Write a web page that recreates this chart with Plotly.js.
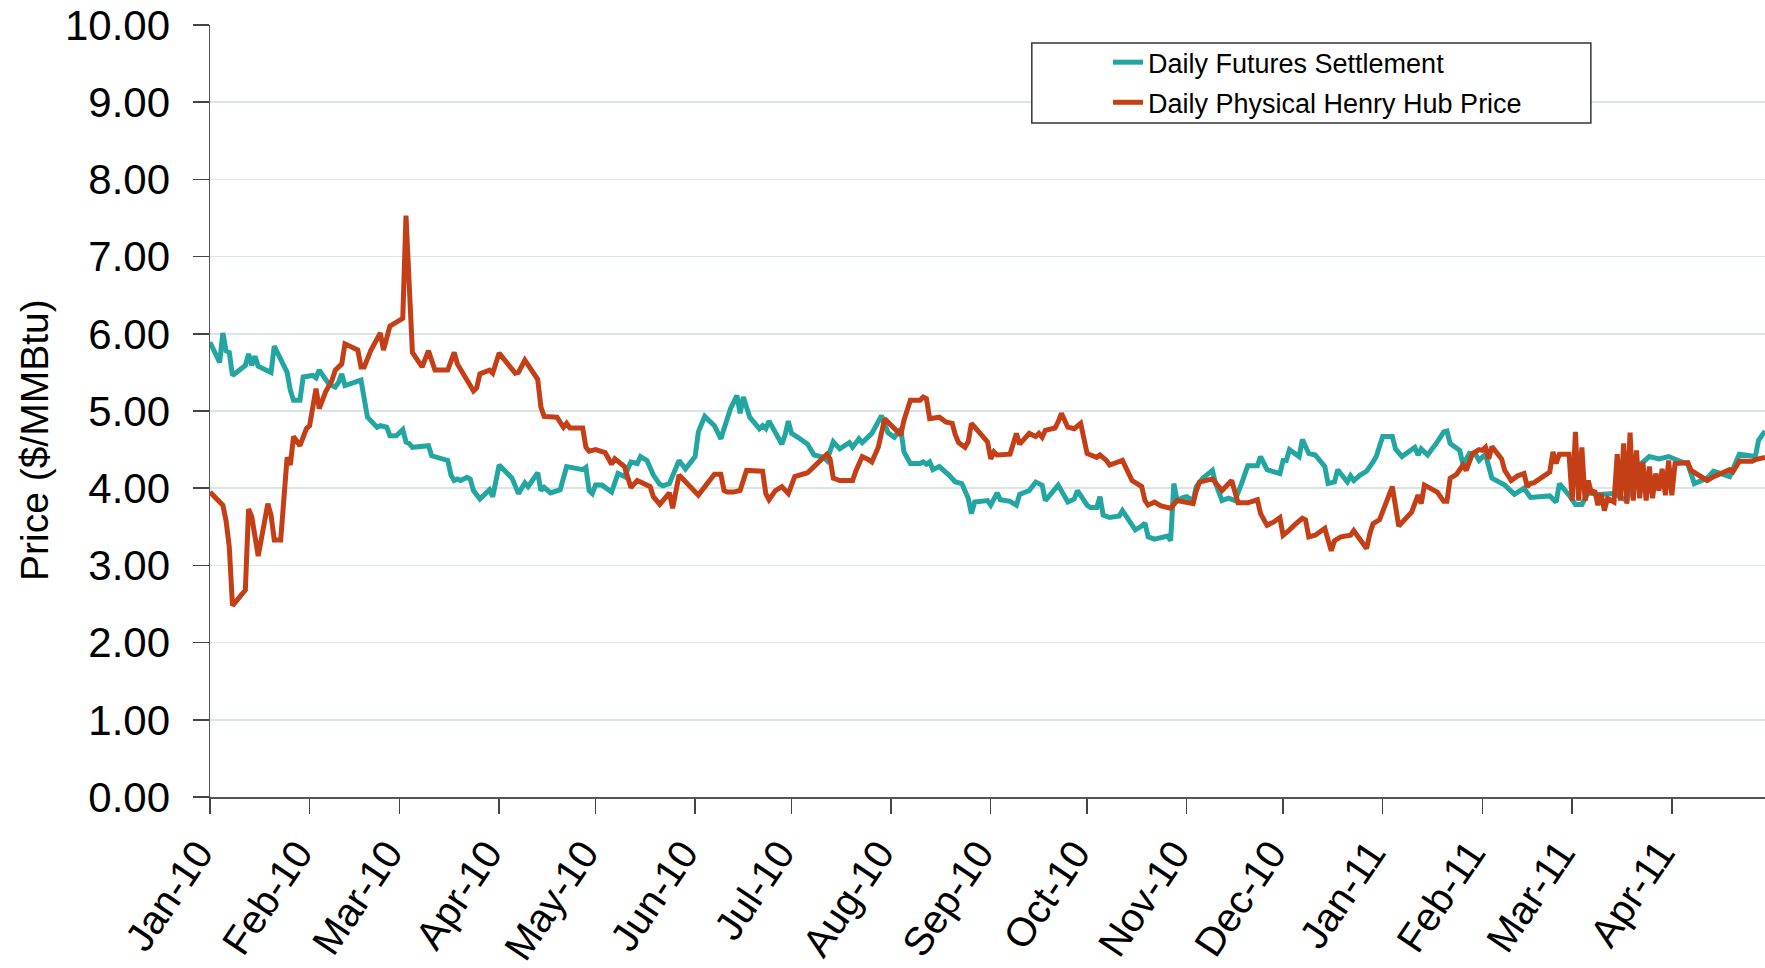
<!DOCTYPE html>
<html>
<head>
<meta charset="utf-8">
<script src="https://cdn.plot.ly/plotly-3.0.1.min.js"></script>
<style>
  html, body { margin: 0; padding: 0; background: #ffffff; }
  #chart { width: 1765px; height: 968px; }
</style>
</head>
<body>
<div id="chart"></div>
<script>
// ---- Data: Daily Futures Settlement ($/MMBtu) ----
const futuresDates = [
  '2010-01-01','2010-01-04','2010-01-05','2010-01-06','2010-01-07','2010-01-08','2010-01-12','2010-01-13','2010-01-14','2010-01-15',
  '2010-01-16','2010-01-20','2010-01-21','2010-01-25','2010-01-26','2010-01-27','2010-01-29','2010-01-30','2010-02-02','2010-02-03',
  '2010-02-04','2010-02-06','2010-02-07','2010-02-09','2010-02-10','2010-02-11','2010-02-12','2010-02-17','2010-02-18','2010-02-19',
  '2010-02-22','2010-02-23','2010-02-25','2010-02-26','2010-02-28','2010-03-02','2010-03-03','2010-03-04','2010-03-05','2010-03-09',
  '2010-03-10','2010-03-11','2010-03-13','2010-03-16','2010-03-17','2010-03-18','2010-03-19','2010-03-20','2010-03-22','2010-03-23',
  '2010-03-24','2010-03-26','2010-03-29','2010-03-30','2010-04-01','2010-04-05','2010-04-07','2010-04-09','2010-04-10','2010-04-13',
  '2010-04-14','2010-04-15','2010-04-17','2010-04-20','2010-04-22','2010-04-27','2010-04-28','2010-04-29','2010-04-30','2010-05-01',
  '2010-05-03','2010-05-06','2010-05-08','2010-05-10','2010-05-12','2010-05-14','2010-05-15','2010-05-17','2010-05-19','2010-05-21',
  '2010-05-22','2010-05-24','2010-05-27','2010-05-29','2010-06-01','2010-06-02','2010-06-04','2010-06-07','2010-06-09','2010-06-12',
  '2010-06-14','2010-06-15','2010-06-16','2010-06-18','2010-06-21','2010-06-22','2010-06-23','2010-06-24','2010-06-28','2010-06-29',
  '2010-06-30','2010-07-01','2010-07-03','2010-07-06','2010-07-08','2010-07-11','2010-07-12','2010-07-14','2010-07-16','2010-07-19',
  '2010-07-20','2010-07-22','2010-07-23','2010-07-26','2010-07-29','2010-07-31','2010-08-02','2010-08-04','2010-08-05','2010-08-07',
  '2010-08-10','2010-08-11','2010-08-12','2010-08-13','2010-08-14','2010-08-16','2010-08-19','2010-08-21','2010-08-23','2010-08-25',
  '2010-08-26','2010-08-27','2010-08-31','2010-09-01','2010-09-03','2010-09-04','2010-09-07','2010-09-09','2010-09-10','2010-09-12',
  '2010-09-13','2010-09-15','2010-09-17','2010-09-18','2010-09-22','2010-09-25','2010-09-27','2010-09-28','2010-10-01','2010-10-02',
  '2010-10-04','2010-10-05','2010-10-06','2010-10-08','2010-10-11','2010-10-12','2010-10-16','2010-10-18','2010-10-19','2010-10-20',
  '2010-10-22','2010-10-26','2010-10-27','2010-10-28','2010-10-29','2010-10-31','2010-11-01','2010-11-03','2010-11-04','2010-11-06',
  '2010-11-09','2010-11-10','2010-11-12','2010-11-14','2010-11-16','2010-11-18','2010-11-20','2010-11-23','2010-11-24','2010-11-26',
  '2010-11-30','2010-12-01','2010-12-02','2010-12-03','2010-12-06','2010-12-07','2010-12-09','2010-12-11','2010-12-14','2010-12-15',
  '2010-12-17','2010-12-18','2010-12-21','2010-12-22','2010-12-23','2010-12-25','2010-12-27','2010-12-29','2010-12-30','2011-01-01',
  '2011-01-04','2011-01-05','2011-01-07','2011-01-11','2011-01-12','2011-01-13','2011-01-15','2011-01-18','2011-01-20','2011-01-21',
  '2011-01-22','2011-01-25','2011-01-26','2011-01-28','2011-01-30','2011-01-31','2011-02-02','2011-02-04','2011-02-08','2011-02-11',
  '2011-02-14','2011-02-16','2011-02-22','2011-02-24','2011-02-25','2011-02-28','2011-03-02','2011-03-04','2011-03-06','2011-03-09',
  '2011-03-12','2011-03-14','2011-03-18','2011-03-20','2011-03-22','2011-03-25','2011-03-28','2011-03-31','2011-04-06','2011-04-08',
  '2011-04-12','2011-04-14','2011-04-19','2011-04-22','2011-04-27','2011-04-28','2011-04-30'
];
const futuresPrices = [
  5.89,5.63,6.01,5.78,5.76,5.46,5.59,5.74,5.59,5.71,
  5.58,5.50,5.84,5.50,5.27,5.14,5.14,5.44,5.46,5.43,
  5.53,5.41,5.35,5.31,5.37,5.48,5.33,5.40,5.16,4.92,
  4.79,4.81,4.79,4.68,4.68,4.76,4.60,4.58,4.53,4.54,
  4.55,4.42,4.40,4.36,4.17,4.10,4.12,4.10,4.14,4.12,
  3.97,3.86,3.98,3.89,4.30,4.13,3.93,4.07,4.02,4.20,
  3.97,4.01,3.94,3.98,4.28,4.24,4.27,3.97,3.93,4.04,
  4.04,3.95,4.19,4.15,4.34,4.32,4.41,4.36,4.17,4.05,
  4.03,4.06,4.36,4.25,4.41,4.73,4.93,4.81,4.64,5.03,
  5.20,4.97,5.18,4.92,4.77,4.81,4.77,4.87,4.57,4.69,
  4.87,4.71,4.66,4.57,4.43,4.40,4.36,4.60,4.51,4.59,
  4.53,4.64,4.59,4.71,4.94,4.72,4.66,4.77,4.47,4.32,
  4.32,4.34,4.31,4.34,4.24,4.28,4.17,4.08,4.06,3.87,
  3.67,3.82,3.84,3.78,3.94,3.85,3.83,3.78,3.92,3.95,
  3.97,4.08,4.04,3.84,4.04,3.82,3.86,3.97,3.78,3.75,
  3.75,3.89,3.65,3.62,3.64,3.71,3.46,3.51,3.55,3.37,
  3.34,3.38,3.32,4.06,3.84,3.88,3.89,3.84,4.02,4.13,
  4.23,4.06,3.84,3.87,3.84,4.05,4.29,4.29,4.41,4.24,
  4.19,4.36,4.36,4.50,4.41,4.63,4.45,4.43,4.28,4.06,
  4.08,4.24,4.08,4.16,4.10,4.17,4.22,4.34,4.41,4.67,
  4.67,4.51,4.41,4.53,4.43,4.51,4.43,4.60,4.73,4.74,
  4.58,4.49,4.30,4.45,4.43,4.36,4.44,4.13,4.04,3.92,
  4.00,3.88,3.90,3.82,4.06,3.91,3.79,3.79,3.94,3.92,
  3.92,3.93,3.84,4.10,4.30,4.41,4.38,4.41,4.31,4.06,
  4.13,4.22,4.15,4.44,4.41,4.62,4.74
];

// ---- Data: Daily Physical Henry Hub Price ($/MMBtu) ----
const physicalDates = [
  '2010-01-01','2010-01-05','2010-01-06','2010-01-07','2010-01-08','2010-01-12','2010-01-13','2010-01-14','2010-01-16','2010-01-19',
  '2010-01-20','2010-01-21','2010-01-23','2010-01-25','2010-01-26','2010-01-27','2010-01-29','2010-01-31','2010-02-01','2010-02-03',
  '2010-02-04','2010-02-06','2010-02-08','2010-02-09','2010-02-11','2010-02-12','2010-02-16','2010-02-17','2010-02-18','2010-02-20',
  '2010-02-23','2010-02-24','2010-02-26','2010-03-02','2010-03-03','2010-03-05','2010-03-08','2010-03-10','2010-03-12','2010-03-16',
  '2010-03-18','2010-03-19','2010-03-23','2010-03-24','2010-03-25','2010-03-26','2010-03-29','2010-03-30','2010-04-01','2010-04-06',
  '2010-04-07','2010-04-09','2010-04-13','2010-04-14','2010-04-15','2010-04-19','2010-04-21','2010-04-22','2010-04-23','2010-04-27',
  '2010-04-28','2010-04-29','2010-04-30','2010-05-01','2010-05-04','2010-05-06','2010-05-07','2010-05-10','2010-05-12','2010-05-14',
  '2010-05-18','2010-05-19','2010-05-21','2010-05-24','2010-05-25','2010-05-27','2010-06-02','2010-06-04','2010-06-07','2010-06-09',
  '2010-06-10','2010-06-11','2010-06-13','2010-06-15','2010-06-16','2010-06-17','2010-06-22','2010-06-23','2010-06-24','2010-06-26',
  '2010-06-28','2010-06-30','2010-07-02','2010-07-04','2010-07-06','2010-07-08','2010-07-09','2010-07-12','2010-07-13','2010-07-14',
  '2010-07-16','2010-07-20','2010-07-21','2010-07-23','2010-07-25','2010-07-26','2010-07-28','2010-07-29','2010-07-30','2010-08-04',
  '2010-08-05','2010-08-07','2010-08-10','2010-08-11','2010-08-12','2010-08-13','2010-08-16','2010-08-18','2010-08-20','2010-08-21',
  '2010-08-22','2010-08-24','2010-08-25','2010-08-26','2010-08-29','2010-08-31','2010-09-01','2010-09-02','2010-09-03','2010-09-07',
  '2010-09-09','2010-09-10','2010-09-13','2010-09-15','2010-09-16','2010-09-17','2010-09-18','2010-09-21','2010-09-22','2010-09-23',
  '2010-09-25','2010-09-27','2010-09-29','2010-10-01','2010-10-04','2010-10-05','2010-10-07','2010-10-08','2010-10-12','2010-10-14',
  '2010-10-15','2010-10-18','2010-10-19','2010-10-20','2010-10-22','2010-10-24','2010-10-27','2010-10-29','2010-10-31','2010-11-03',
  '2010-11-04','2010-11-05','2010-11-09','2010-11-12','2010-11-15','2010-11-17','2010-11-20','2010-11-23','2010-11-24','2010-11-26',
  '2010-11-28','2010-11-30','2010-12-01','2010-12-02','2010-12-03','2010-12-05','2010-12-07','2010-12-08','2010-12-09','2010-12-11',
  '2010-12-14','2010-12-15','2010-12-16','2010-12-17','2010-12-19','2010-12-22','2010-12-23','2010-12-24','2010-12-27','2010-12-28',
  '2010-12-29','2010-12-31','2011-01-04','2011-01-06','2011-01-10','2011-01-12','2011-01-13','2011-01-14','2011-01-18','2011-01-20',
  '2011-01-21','2011-01-22','2011-01-24','2011-01-26','2011-01-27','2011-01-29','2011-01-31','2011-02-01','2011-02-02','2011-02-03',
  '2011-02-04','2011-02-07','2011-02-08','2011-02-10','2011-02-12','2011-02-14','2011-02-15','2011-02-16','2011-02-17','2011-02-22',
  '2011-02-23','2011-02-24','2011-02-25','2011-02-28','2011-03-01','2011-03-02','2011-03-03','2011-03-04','2011-03-05','2011-03-06',
  '2011-03-07','2011-03-08','2011-03-09','2011-03-10','2011-03-11','2011-03-12','2011-03-14','2011-03-15','2011-03-16','2011-03-17',
  '2011-03-18','2011-03-19','2011-03-20','2011-03-21','2011-03-22','2011-03-23','2011-03-24','2011-03-25','2011-03-26','2011-03-27',
  '2011-03-28','2011-03-29','2011-03-30','2011-03-31','2011-04-01','2011-04-02','2011-04-06','2011-04-07','2011-04-12','2011-04-14',
  '2011-04-17','2011-04-19','2011-04-20','2011-04-22','2011-04-26','2011-04-27','2011-04-30'
];
const physicalPrices = [
  3.95,3.78,3.58,3.24,2.48,2.68,3.73,3.63,3.12,3.80,
  3.65,3.33,3.33,4.40,4.30,4.67,4.55,4.77,4.81,5.29,
  5.03,5.25,5.40,5.53,5.61,5.87,5.79,5.57,5.57,5.78,
  6.01,5.79,6.10,6.20,7.53,5.76,5.57,5.78,5.53,5.53,
  5.76,5.61,5.33,5.26,5.30,5.48,5.53,5.49,5.75,5.49,
  5.50,5.66,5.41,5.05,4.93,4.92,4.79,4.84,4.78,4.78,
  4.53,4.48,4.49,4.50,4.46,4.31,4.38,4.28,4.01,4.10,
  4.02,3.89,3.79,3.94,3.74,4.17,3.91,4.02,4.18,4.18,
  3.97,3.95,3.95,3.97,4.10,4.23,4.22,3.93,3.85,3.97,
  4.02,3.93,4.15,4.18,4.20,4.28,4.32,4.44,4.38,4.13,
  4.10,4.10,4.22,4.41,4.37,4.34,4.53,4.73,4.90,4.69,
  4.88,5.14,5.14,5.18,5.16,4.90,4.92,4.86,4.84,4.69,
  4.59,4.53,4.60,4.84,4.71,4.60,4.38,4.47,4.43,4.44,
  4.71,4.57,4.71,4.67,4.71,4.66,4.75,4.78,4.86,4.97,
  4.79,4.77,4.84,4.45,4.40,4.43,4.36,4.30,4.36,4.19,
  4.10,4.02,3.84,3.78,3.82,3.77,3.74,3.84,3.82,3.80,
  3.97,4.08,4.12,3.97,4.10,3.81,3.81,3.85,3.67,3.52,
  3.56,3.62,3.39,3.42,3.46,3.54,3.61,3.59,3.37,3.39,
  3.48,3.33,3.19,3.32,3.37,3.39,3.45,3.39,3.22,3.41,
  3.54,3.59,4.02,3.51,3.69,3.91,3.80,4.04,3.95,3.83,
  3.83,4.13,4.18,4.30,4.23,4.45,4.50,4.49,4.53,4.38,
  4.54,4.38,4.23,4.10,4.16,4.19,4.02,4.06,4.07,4.21,
  4.47,4.32,4.44,4.44,3.84,4.73,3.84,4.53,3.84,4.10,
  3.93,3.97,3.78,3.93,3.71,3.87,3.82,4.44,3.84,4.58,
  3.80,4.72,3.84,4.49,3.87,4.34,3.84,4.28,3.87,4.19,
  3.97,4.25,3.91,4.36,3.91,4.32,4.33,4.23,4.10,4.15,
  4.20,4.24,4.21,4.35,4.35,4.37,4.40
];

const seriesNames = ['Daily Futures Settlement', 'Daily Physical Henry Hub Price'];
const seriesColors = ['#23a6a1', '#c43e16'];
const yTitle = 'Price ($/MMBtu)';
const xRange = ['2010-01-01', '2011-04-30'];
const yRange = [0, 10];

const FONT = 'Liberation Sans, Arial, Helvetica, sans-serif';

const traces = [
  {
    type: 'scatter', mode: 'lines', name: seriesNames[0],
    x: futuresDates, y: futuresPrices, legendgroup: 'a',
    line: { color: seriesColors[0], width: 5 }
  },
  {
    type: 'scatter', mode: 'lines', name: seriesNames[1],
    x: physicalDates, y: physicalPrices, legendgroup: 'b',
    line: { color: seriesColors[1], width: 5 }
  }
];

const layout = {
  width: 1765, height: 968,
  margin: { l: 210, r: 0, t: 25, b: 171, pad: 0 },
  paper_bgcolor: '#ffffff', plot_bgcolor: '#ffffff',
  font: { family: FONT, color: '#000000' },
  showlegend: true,
  legend: {
    x: 0.5775, y: 0.983, xanchor: 'left', yanchor: 'top',
    bgcolor: 'rgba(0,0,0,0)', borderwidth: 0,
    font: { family: FONT, size: 27, color: '#000000' },
    traceorder: 'grouped', tracegroupgap: 2
  },
  xaxis: {
    type: 'date', range: xRange,
    tick0: '2010-01-01', dtick: 'M1', tickformat: '%b-%y',
    tickangle: -56,
    ticks: 'outside', ticklen: 15, tickwidth: 1.5, tickcolor: '#444444',
    ticklabelshift: -12,
    showline: true, linecolor: '#555555', linewidth: 1.5,
    showgrid: false, zeroline: false,
    tickfont: { family: FONT, size: 40, color: '#000000' },
    automargin: false, fixedrange: true
  },
  yaxis: {
    range: yRange, dtick: 1, tick0: 0, tickformat: '.2f',
    ticks: 'outside', ticklen: 16, tickwidth: 1.5, tickcolor: '#444444',
    ticklabelstandoff: 14,
    showline: true, linecolor: '#555555', linewidth: 1.5,
    showgrid: true, gridcolor: '#d9e6e6', gridwidth: 1.5,
    zeroline: false,
    tickfont: { family: FONT, size: 42, color: '#000000' },
    automargin: false, fixedrange: true
  },
  shapes: [
    {
      type: 'rect', xref: 'paper', yref: 'paper', layer: 'above',
      x0: 0.5285, x1: 0.888, y0: 0.873, y1: 0.9767,
      line: { color: '#333333', width: 1.5 }, fillcolor: '#ffffff'
    }
  ],
  annotations: [
    {
      text: yTitle, xref: 'paper', yref: 'paper',
      x: 0, y: 0.4624, xanchor: 'center', yanchor: 'middle',
      xshift: -176, textangle: -90, showarrow: false,
      font: { family: FONT, size: 39, color: '#000000' }
    }
  ]
};

Plotly.newPlot('chart', traces, layout, { displayModeBar: false, staticPlot: true });
</script>
</body>
</html>
